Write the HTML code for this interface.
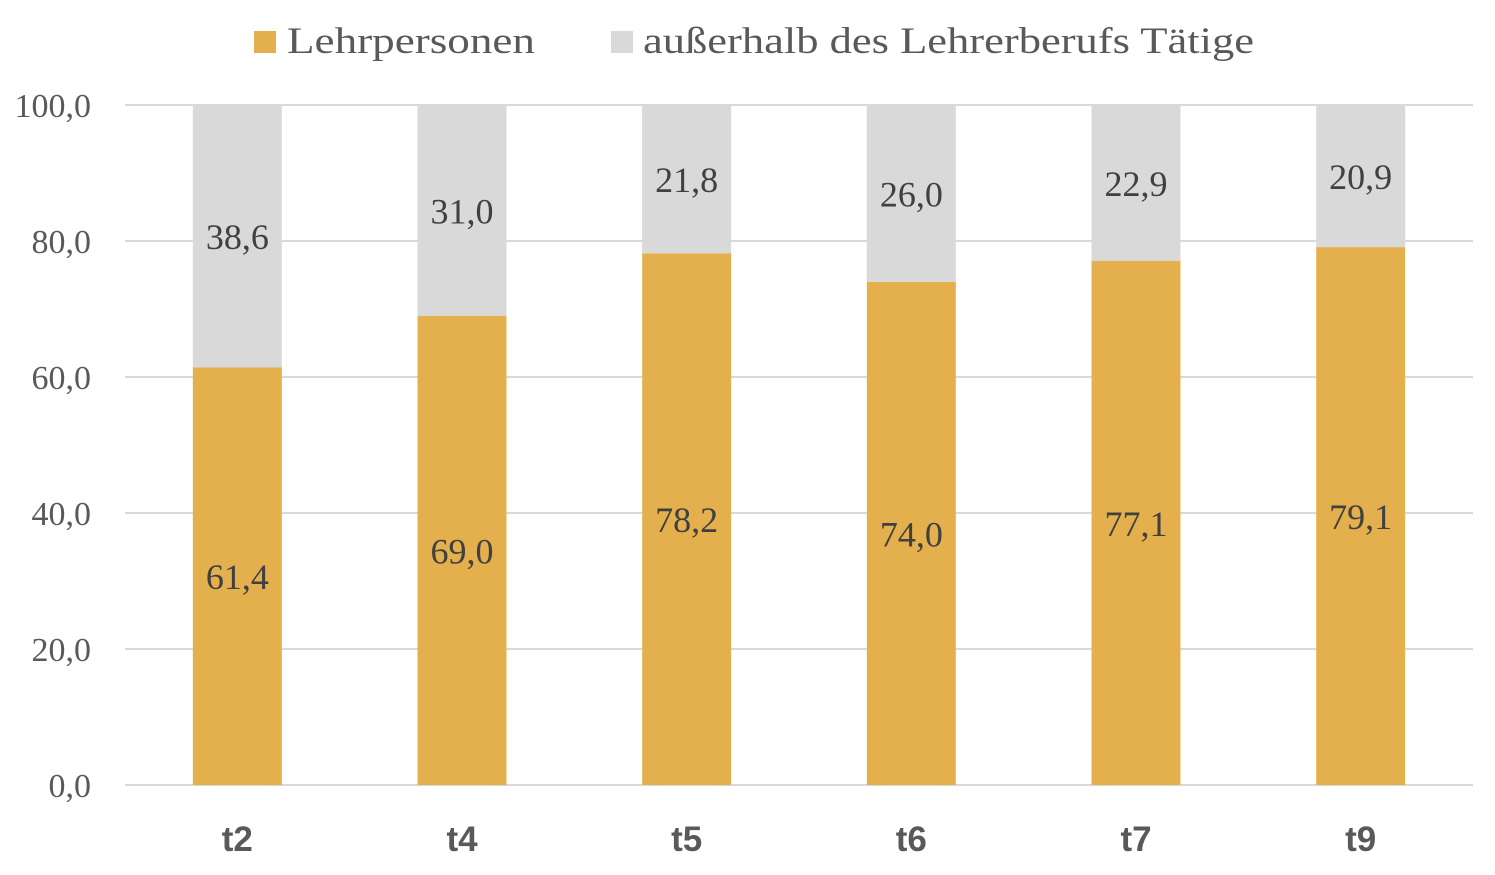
<!DOCTYPE html>
<html><head><meta charset="utf-8"><style>
html,body{margin:0;padding:0;background:#fff;}
svg{display:block;}
</style></head><body>
<svg id="chart" width="1495" height="875" xmlns="http://www.w3.org/2000/svg"></svg>
<script>
const categories = ["t2","t4","t5","t6","t7","t9"];
const teachers = [61.4,69.0,78.2,74.0,77.1,79.1];
const others = [38.6,31.0,21.8,26.0,22.9,20.9];
const yTicks = [0,20,40,60,80,100];

const svg = document.getElementById('chart');
const NS = 'http://www.w3.org/2000/svg';
const x0 = 125, x1 = 1473, yBase = 785, yTop = 105;
const yMax = 100;
const band = (x1 - x0) / categories.length;
const barW = 89;
const y = v => yBase - (v / yMax) * (yBase - yTop);
const xc = i => x0 + band * (i + 0.5);
const fmt = v => v.toFixed(1).replace('.', ',');
function mk(tag, attrs, text){
  const e = document.createElementNS(NS, tag);
  for (const k in attrs) e.setAttribute(k, attrs[k]);
  if (text !== undefined) e.textContent = text;
  svg.appendChild(e);
  return e;
}
const serif = '"Liberation Serif", serif';

yTicks.forEach(t => {
  const g = mk('line', {x1: x0, x2: x1, y1: y(t), y2: y(t), stroke: '#d9d9d9', 'stroke-width': 2});
  
  
  const l = mk('text', {x: 91, y: y(t) + 12, 'text-anchor': 'end', 'font-family': serif, 'font-size': 34, fill: '#595959'}, fmt(t));
  
  
});

categories.forEach((c, i) => {
  const cx = xc(i);
  const b1 = mk('rect', {x: cx - barW/2, y: y(teachers[i]), width: barW, height: yBase - y(teachers[i]), fill: '#e4b04e'});
  
  
  const top = teachers[i] + others[i];
  const b2 = mk('rect', {x: cx - barW/2, y: y(top), width: barW, height: y(teachers[i]) - y(top), fill: '#d9d9d9'});
  
  
  const v1 = mk('text', {x: cx, y: y(teachers[i]/2) + 13, 'text-anchor': 'middle', 'font-family': serif, 'font-size': 36, fill: '#404040'}, fmt(teachers[i]));
  
  
  const v2 = mk('text', {x: cx, y: y(teachers[i] + others[i]/2) + 13, 'text-anchor': 'middle', 'font-family': serif, 'font-size': 36, fill: '#404040'}, fmt(others[i]));
  
  
  const cl = mk('text', {x: cx, y: 851, 'text-anchor': 'middle', 'font-family': '"Liberation Sans", sans-serif', 'font-weight': 'bold', 'font-size': 35, fill: '#595959'}, c);
  
  
});

const s1 = mk('rect', {x: 254, y: 31, width: 22, height: 22, fill: '#e4b04e'});


const t1 = mk('text', {x: 287, y: 53, 'font-family': serif, 'font-size': 37, fill: '#595959', textLength: 248, lengthAdjust: 'spacingAndGlyphs'}, 'Lehrpersonen');


const s2 = mk('rect', {x: 611, y: 31, width: 22, height: 22, fill: '#d9d9d9'});


const t2 = mk('text', {x: 643, y: 53, 'font-family': serif, 'font-size': 37, fill: '#595959', textLength: 611, lengthAdjust: 'spacingAndGlyphs'}, 'außerhalb des Lehrerberufs Tätige');


</script>
</body></html>
